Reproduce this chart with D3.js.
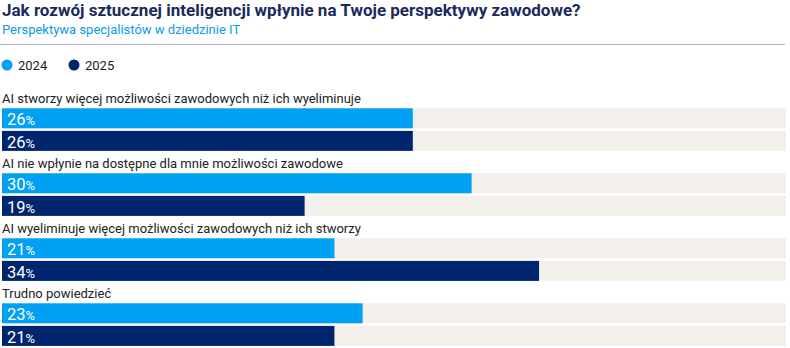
<!DOCTYPE html>
<html><head><meta charset="utf-8">
<script src="https://cdn.jsdelivr.net/npm/d3@7"></script>
<style>body{margin:0;background:#fff;}svg{display:block;font-family:Roboto, sans-serif;}</style>
</head><body>
<svg id="c" width="790" height="348"></svg>
<script>
const title = "Jak rozwój sztucznej inteligencji wpłynie na Twoje perspektywy zawodowe?";
const subtitle = "Perspektywa specjalistów w dziedzinie IT";
const categories = [
  "AI stworzy więcej możliwości zawodowych niż ich wyeliminuje",
  "AI nie wpłynie na dostępne dla mnie możliwości zawodowe",
  "AI wyeliminuje więcej możliwości zawodowych niż ich stworzy",
  "Trudno powiedzieć"
];
const seriesNames = ["2024", "2025"];
const values2024 = [26.2, 29.95, 21.2, 23.0];
const values2025 = [26.2, 19.3, 34.25, 21.2];
const labels2024 = [26, 30, 21, 23];
const labels2025 = [26, 19, 34, 21];
const colors = ["#00a1f4", "#00256f"];

const svg = d3.select("#c");
const x = d3.scaleLinear().domain([0, 50]).range([2, 786]);
const y = d3.scaleBand().domain(categories).range([86.3, 86.3 + 65 * 4]).paddingInner(0).paddingOuter(0);

svg.append("text").attr("x", 2).attr("y", 16).attr("fill", "#1b2a5c")
  .attr("font-size", 17).attr("font-weight", 700).text(title);
svg.append("text").attr("x", 2).attr("y", 33.5).attr("fill", "#0a9be6")
  .attr("font-size", 13).text(subtitle);
svg.append("line").attr("x1", 0).attr("x2", 785).attr("y1", 44.5).attr("y2", 44.5)
  .attr("stroke", "#b1b1cf").attr("stroke-width", 1);

// legend
const leg = svg.append("g");
const legX = [7, 74];
seriesNames.forEach((s, i) => {
  leg.append("circle").attr("cx", legX[i]).attr("cy", 65).attr("r", 5.5).attr("fill", colors[i]);
  leg.append("text").attr("x", legX[i] + 11).attr("y", 69.5).attr("font-size", 13).attr("fill", "#222").text(s);
});

const series = [values2024, values2025];
const labs = [labels2024, labels2025];
const g = svg.append("g");
categories.forEach((c, ci) => {
  const y0 = y(c);
  g.append("text").attr("x", 2).attr("y", y0 + 17).attr("font-size", 13).attr("fill", "#222").text(c);
  series.forEach((vals, si) => {
    const by = y0 + 22 + si * 22.6;
    g.append("rect").attr("x", x(0)).attr("y", by).attr("width", x(50) - x(0)).attr("height", 20).attr("fill", "#f3efeb");
    g.append("rect").attr("x", x(0)).attr("y", by).attr("width", x(vals[ci]) - x(0)).attr("height", 20).attr("fill", colors[si]);
    const t = g.append("text").attr("x", 7).attr("y", by + 16.6).attr("fill", "#fff")
      .attr("font-size", 16.5).attr("font-weight", 400);
    t.append("tspan").text(labs[si][ci]);
    t.append("tspan").attr("font-size", 13).text("%");
  });
});
</script>
</body></html>
